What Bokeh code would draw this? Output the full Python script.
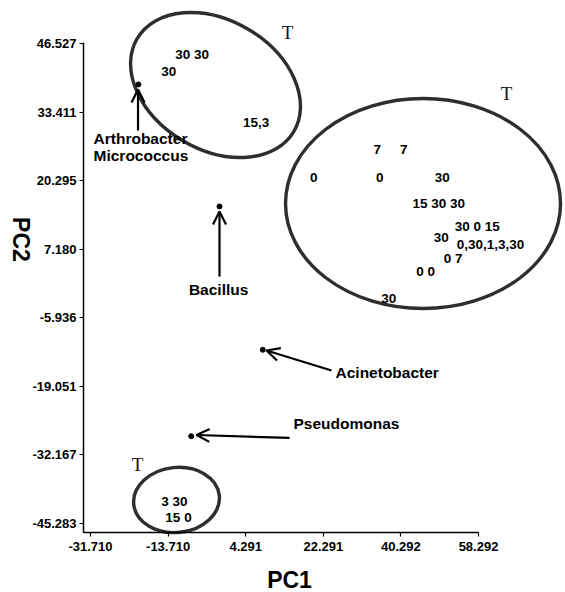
from bokeh.plotting import figure
from bokeh.models import (Range1d, FixedTicker, NumeralTickFormatter, ColumnDataSource,
                          Arrow, OpenHead)
from bokeh.core.properties import value
from bokeh.embed import file_html
from bokeh.resources import INLINE
import math

# Axis ticks (PC score scale)
X_TICKS = [-31.710, -13.710, 4.291, 22.291, 40.292, 58.292]
Y_TICKS = [-45.283, -32.167, -19.051, -5.936, 7.180, 20.295, 33.411, 46.527]

# Sample scores labelled by sampling day, grouped by cluster
top_text = ["30 30", "30", "15,3"]
top_pc1 = [-8.12, -13.55, 6.73]
top_pc2 = [44.42, 41.23, 31.47]

right_text = ["7", "7", "0", "0", "30", "15 30 30", "30 0 15", "30",
              "0,30,1,3,30", "0 7", "0 0", "30"]
right_pc1 = [34.79, 40.97, 20.09, 35.40, 49.87, 49.08, 57.99, 49.64,
             61.08, 52.42, 46.00, 37.48]
right_pc2 = [26.25, 26.25, 20.90, 20.90, 20.90, 15.92, 11.52, 9.42,
             8.08, 5.40, 2.82, -2.25]

low_text = ["3 30", "15 0"]
low_pc1 = [-12.23, -11.30]
low_pc2 = [-41.08, -44.14]

# Reference strains
strain_names = ["Arthrobacter", "Bacillus", "Acinetobacter", "Pseudomonas"]
strain_pc1 = [-20.6, -1.79, 8.26, -8.35]
strain_pc2 = [38.7, 15.35, -12.06, -28.59]

# Cluster envelopes: centre, full width/height (data units), tilt (deg)
cluster_pc1 = [-2.71, 45.42, -11.76]
cluster_pc2 = [38.59, 15.92, -40.79]
cluster_w = [42.26, 63.79, 19.95]
cluster_h = [24.73, 40.17, 12.43]
cluster_tilt = [-30.8, 0.0, 6.0]

# "T" marks beside each cluster
t_pc1 = [13.99, 64.79, -20.81]
t_pc2 = [48.63, 36.87, -34.0]

# Plot window and where the two axes cross
X0, X1 = -52.59, 78.47
Y0, Y1 = -58.49, 54.75
X_AXIS_AT = -47.0
Y_AXIS_AT = -33.33

p = figure(width=565, height=592, x_range=Range1d(X0, X1), y_range=Range1d(Y0, Y1),
           output_backend="svg", toolbar_location=None,
           min_border_left=0, min_border_right=0, min_border_top=0, min_border_bottom=0)
p.outline_line_color = None
p.grid.visible = False
p.background_fill_color = "white"
p.border_fill_color = "white"

FONT = value("Liberation Sans")

for ax, ticks, loc, bnd in ((p.xaxis[0], X_TICKS, X_AXIS_AT, (Y_AXIS_AT, X_TICKS[-1])),
                            (p.yaxis[0], Y_TICKS, Y_AXIS_AT, (X_AXIS_AT, 46.8))):
    ax.fixed_location = loc
    ax.ticker = FixedTicker(ticks=ticks)
    ax.formatter = NumeralTickFormatter(format="0.000")
    ax.bounds = bnd
    ax.axis_line_color = "black"
    ax.axis_line_width = 1.5
    ax.major_tick_line_color = "black"
    ax.major_tick_line_width = 1.2
    ax.major_tick_out = 4
    ax.major_tick_in = 0
    ax.minor_tick_line_color = None
    ax.major_label_text_font = "Liberation Sans"
    ax.major_label_text_font_style = "bold"
    ax.major_label_text_font_size = "13px"
    ax.major_label_text_color = "black"
p.xaxis.major_label_standoff = 6
p.yaxis.major_label_standoff = 3

# Cluster envelopes
p.ellipse(x=cluster_pc1, y=cluster_pc2, width=cluster_w, height=cluster_h,
          angle=[math.radians(a) for a in cluster_tilt],
          fill_color=None, line_color="#2e2e2e", line_width=3.4)

# Day labels
for txt, xs, ys in ((top_text, top_pc1, top_pc2),
                    (right_text, right_pc1, right_pc2),
                    (low_text, low_pc1, low_pc2)):
    src = ColumnDataSource(dict(x=xs, y=ys, t=txt))
    p.text(x="x", y="y", text="t", source=src, text_font=FONT, text_font_style="bold",
           text_font_size="13.5px", text_align="center", text_baseline="middle",
           text_color="black")

# T marks
p.text(x=t_pc1, y=t_pc2, text=["T"] * 3, text_font=value("Liberation Serif"),
       text_font_size="19px", text_align="center", text_baseline="middle",
       text_color="#111111")

# Strain points
p.scatter(x=strain_pc1, y=strain_pc2, size=5, color="black")

# Strain arrows (tail -> head in data units)
arrows = [(-20.69, 29.89, -20.69, 37.73),
          (-1.79, 1.96, -1.79, 14.39),
          (24.19, -16.02, 9.12, -12.20),
          (14.45, -28.93, -7.12, -28.36)]
for xs, ys, xe, ye in arrows:
    p.add_layout(Arrow(end=OpenHead(size=13, line_width=2.2, line_color="black"),
                       x_start=xs, y_start=ys, x_end=xe, y_end=ye,
                       line_width=2.2, line_color="black"))

name_src = ColumnDataSource(dict(
    x=[-31.01, -31.01, 25.12, 15.38],
    y=[28.36, 25.10, -16.40, -26.16],
    t=["Arthrobacter", "Micrococcus", "Acinetobacter", "Pseudomonas"]))
p.text(x="x", y="y", text="t", source=name_src, text_font=FONT, text_font_style="bold",
       text_font_size="15.5px", text_align="left", text_baseline="middle", text_color="black")
p.text(x=[-1.99], y=[-0.53], text=["Bacillus"], text_font=FONT, text_font_style="bold",
       text_font_size="15.5px", text_align="center", text_baseline="middle", text_color="black")

# Axis titles
p.text(x=[14.45], y=[-56.19], text=["PC1"], text_font=FONT, text_font_style="bold",
       text_font_size="23px", text_align="center", text_baseline="middle", text_color="black")
p.text(x=[-47.72], y=[9.04], text=["PC2"], text_font=FONT, text_font_style="bold",
       text_font_size="23px", text_align="center", text_baseline="middle", text_color="black",
       angle=-math.pi / 2)

open("out.html", "w").write(file_html(p, INLINE))
